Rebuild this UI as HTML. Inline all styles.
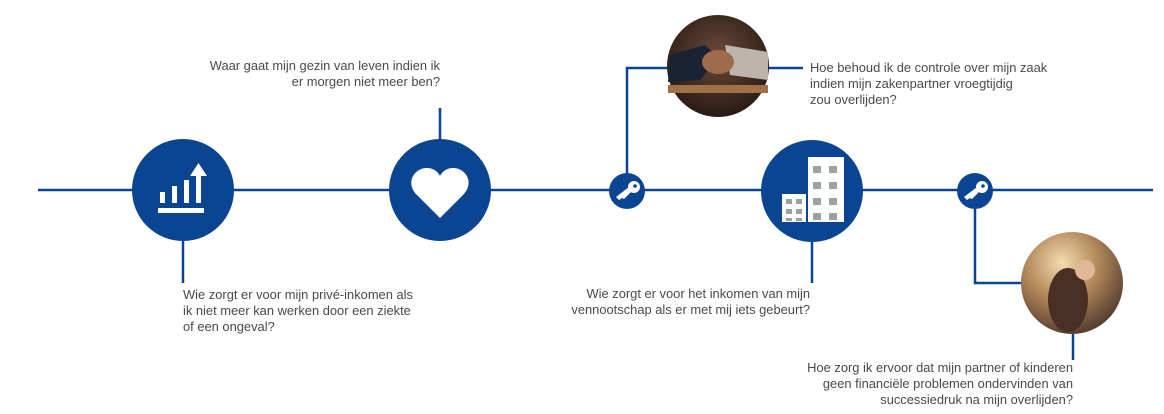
<!DOCTYPE html>
<html><head><meta charset="utf-8"><style>
html,body{margin:0;padding:0;background:#fff;width:1164px;height:414px;overflow:hidden;}
svg{display:block}
text{font-family:"Liberation Sans",sans-serif;font-size:12.9px;fill:#4a4a4a;}
</style></head><body>
<svg width="1164" height="414" viewBox="0 0 1164 414">
<defs>
<radialGradient id="hs" cx="50%" cy="40%" r="60%"><stop offset="0" stop-color="#6a4a3a"/><stop offset="1" stop-color="#2a1a14"/></radialGradient>
<radialGradient id="fam" cx="40%" cy="30%" r="70%"><stop offset="0" stop-color="#f3dcae"/><stop offset="0.5" stop-color="#b38a5c"/><stop offset="1" stop-color="#5a4030"/></radialGradient>
</defs>
<g stroke="#0b4592" stroke-width="2.5" fill="none">
<line x1="38" y1="190" x2="1153" y2="190"/>
<line x1="183" y1="240" x2="183" y2="283"/>
<line x1="440" y1="108" x2="440" y2="140"/>
<polyline points="627,191 627,68 720,68"/>
<line x1="720" y1="68" x2="803" y2="68"/>
<line x1="812" y1="240" x2="812" y2="283"/>
<polyline points="975,191 975,283 1040,283"/>
<line x1="1073" y1="330" x2="1073" y2="360"/>
</g>
<g fill="#0b4592">
<circle cx="183" cy="190" r="51"/>
<circle cx="440" cy="190" r="51"/>
<circle cx="627" cy="191" r="18"/>
<circle cx="812" cy="191" r="51"/>
<circle cx="975" cy="191" r="18"/>
</g>
<g fill="#fff">
<rect x="158" y="208" width="46" height="5"/>
<rect x="160" y="192" width="5" height="11"/>
<rect x="172" y="186" width="5" height="17"/>
<rect x="184" y="180" width="5" height="23"/>
<rect x="196" y="176" width="5" height="27"/>
<polygon points="190,176 198.5,163 207,176"/>
</g>
<path d="M440,218 L417,195 C405,183 414,168 427,168 C434,168 438,172 440,176 C442,172 446,168 453,168 C466,168 475,183 463,195 Z" fill="#fff"/>
<g fill="#fff">
<circle cx="634" cy="187" r="6"/><circle cx="635" cy="186" r="1.8" fill="#0b4592"/>
<polygon points="629,187 616,197 619,200 622,198 624,199 631,192"/>
<circle cx="982" cy="187" r="6"/><circle cx="983" cy="186" r="1.8" fill="#0b4592"/>
<polygon points="977,187 964,197 967,200 970,198 972,199 979,192"/>
</g>
<g fill="#fff"><rect x="808" y="157" width="36" height="65"/><rect x="782" y="194" width="24" height="28"/></g>
<g fill="#9aa1a3">
<rect x="813" y="166" width="8" height="7"/><rect x="829" y="166" width="8" height="7"/>
<rect x="813" y="182" width="8" height="7"/><rect x="829" y="182" width="8" height="7"/>
<rect x="813" y="198" width="8" height="7"/><rect x="829" y="198" width="8" height="7"/>
<rect x="813" y="213" width="8" height="7"/><rect x="829" y="213" width="8" height="7"/>
<rect x="786" y="199" width="6" height="5"/><rect x="796" y="199" width="6" height="5"/>
<rect x="786" y="209" width="6" height="5"/><rect x="796" y="209" width="6" height="5"/>
<rect x="786" y="218" width="6" height="3"/><rect x="796" y="218" width="6" height="3"/>
</g>
<circle cx="718" cy="66" r="51" fill="url(#hs)"/>
<path d="M670,55 L705,45 L718,58 L700,80 L668,82 Z" fill="#1a2233"/>
<path d="M725,45 L768,52 L768,80 L730,75 Z" fill="#bdb5ad"/>
<ellipse cx="718" cy="62" rx="16" ry="12" fill="#a06a4c"/>
<rect x="668" y="85" width="100" height="8" fill="#a07048"/>
<circle cx="1072" cy="283" r="51" fill="url(#fam)"/>
<ellipse cx="1068" cy="300" rx="20" ry="32" fill="#4a3024"/>
<circle cx="1085" cy="270" r="10" fill="#e0b898"/>
<text text-anchor="end"><tspan x="440" y="70">Waar gaat mijn gezin van leven indien ik</tspan><tspan x="440" y="86">er morgen niet meer ben?</tspan></text>
<text><tspan x="183" y="299">Wie zorgt er voor mijn privé-inkomen als</tspan><tspan x="183" y="315">ik niet meer kan werken door een ziekte</tspan><tspan x="183" y="331">of een ongeval?</tspan></text>
<text><tspan x="810" y="72">Hoe behoud ik de controle over mijn zaak</tspan><tspan x="810" y="88">indien mijn zakenpartner vroegtijdig</tspan><tspan x="810" y="104">zou overlijden?</tspan></text>
<text text-anchor="end"><tspan x="810" y="298">Wie zorgt er voor het inkomen van mijn</tspan><tspan x="810" y="314">vennootschap als er met mij iets gebeurt?</tspan></text>
<text text-anchor="end"><tspan x="1073" y="372">Hoe zorg ik ervoor dat mijn partner of kinderen</tspan><tspan x="1073" y="388">geen financiële problemen ondervinden van</tspan><tspan x="1073" y="404">successiedruk na mijn overlijden?</tspan></text>
</svg>
</body></html>
